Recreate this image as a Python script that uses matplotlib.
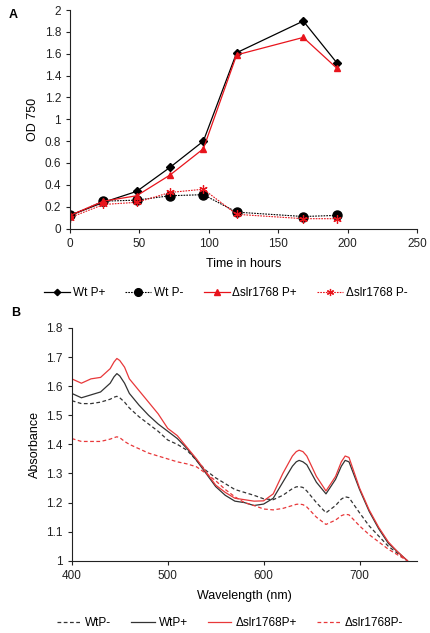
#!/usr/bin/env python3
import matplotlib
matplotlib.use("Agg")
import matplotlib.pyplot as plt
from matplotlib.ticker import FuncFormatter

plt.rcParams["font.family"] = ["Liberation Sans", "DejaVu Sans"]
plt.rcParams["font.size"] = 8

# panel A: growth curves
hours = [0, 24, 48, 72, 96, 120, 168, 192]
wt_p_plus = [0.12, 0.24, 0.34, 0.56, 0.80, 1.61, 1.90, 1.52]
wt_p_minus = [0.12, 0.25, 0.26, 0.30, 0.31, 0.15, 0.11, 0.12]
slr_p_plus = [0.12, 0.25, 0.30, 0.49, 0.73, 1.59, 1.75, 1.47]
slr_p_minus = [0.10, 0.22, 0.24, 0.33, 0.36, 0.13, 0.09, 0.09]

# panel B: absorbance spectra
wl = [400, 410, 420, 430, 440, 444, 447, 450, 455, 460, 470, 480, 490, 500, 510,
      520, 530, 540, 550, 560, 570, 580, 590, 600, 610, 620, 630, 634, 637, 641,
      645, 655, 665, 675, 681, 685, 689, 700, 710, 720, 730, 740, 750]
spec_wt_minus = [1.55, 1.54, 1.54, 1.545, 1.555, 1.562, 1.565, 1.56, 1.545, 1.525,
                 1.495, 1.47, 1.445, 1.415, 1.40, 1.38, 1.345, 1.31, 1.285, 1.265,
                 1.245, 1.235, 1.225, 1.213, 1.21, 1.225, 1.248, 1.254, 1.255, 1.252,
                 1.24, 1.20, 1.165, 1.19, 1.212, 1.22, 1.217, 1.165, 1.12, 1.085,
                 1.05, 1.025, 1.00]
spec_wt_plus = [1.575, 1.56, 1.57, 1.58, 1.61, 1.632, 1.643, 1.635, 1.61, 1.575,
                1.535, 1.50, 1.47, 1.445, 1.42, 1.386, 1.345, 1.30, 1.255, 1.225,
                1.205, 1.20, 1.19, 1.195, 1.215, 1.27, 1.325, 1.34, 1.345, 1.34,
                1.33, 1.27, 1.23, 1.28, 1.325, 1.345, 1.34, 1.245, 1.17, 1.11,
                1.06, 1.03, 1.00]
spec_slr_plus = [1.625, 1.61, 1.625, 1.63, 1.66, 1.683, 1.695, 1.688, 1.665, 1.625,
                 1.585, 1.545, 1.505, 1.455, 1.43, 1.39, 1.35, 1.305, 1.26, 1.235,
                 1.215, 1.21, 1.205, 1.206, 1.23, 1.30, 1.36, 1.375, 1.38, 1.375,
                 1.36, 1.29, 1.24, 1.29, 1.34, 1.36, 1.355, 1.25, 1.175, 1.115,
                 1.065, 1.03, 1.00]
spec_slr_minus = [1.42, 1.41, 1.41, 1.41, 1.418, 1.423, 1.426, 1.423, 1.41, 1.40,
                  1.385, 1.37, 1.36, 1.35, 1.34, 1.333, 1.323, 1.30, 1.275, 1.245,
                  1.22, 1.20, 1.19, 1.178, 1.175, 1.18, 1.19, 1.194, 1.195, 1.193,
                  1.185, 1.15, 1.125, 1.14, 1.155, 1.16, 1.158, 1.12, 1.09, 1.065,
                  1.04, 1.02, 1.00]

RED = "#e8141c"


def style_axes(ax):
    ax.spines["top"].set_visible(False)
    ax.spines["right"].set_visible(False)
    ax.spines["left"].set_color("#222222")
    ax.spines["bottom"].set_color("#222222")
    ax.tick_params(direction="out", length=3, width=0.8, colors="#222222",
                   labelsize=8.5)


def main():
    fig = plt.figure(figsize=(4.3, 6.33), dpi=100)

    # ---- A ----
    ax1 = fig.add_axes([0.163, 0.639, 0.807, 0.345])
    ax1.plot(hours, wt_p_plus, color="black", lw=0.9, marker="D", ms=3.8,
             label="Wt P+")
    ax1.plot(hours, wt_p_minus, color="black", lw=0.8, ls=(0, (1.5, 1)),
             marker="o", ms=6.5, label="Wt P-")
    ax1.plot(hours, slr_p_plus, color=RED, lw=0.9, marker="^", ms=4.5,
             label="Δslr1768 P+")
    ax1.plot(hours, slr_p_minus, color=RED, lw=0.8, ls=(0, (1.5, 1)),
             marker=(6, 2, 0), ms=6, mew=0.9, label="Δslr1768 P-")
    ax1.set_xlim(0, 250)
    ax1.set_ylim(0, 2)
    ax1.set_xticks([0, 50, 100, 150, 200, 250])
    ax1.set_yticks([0, 0.2, 0.4, 0.6, 0.8, 1, 1.2, 1.4, 1.6, 1.8, 2])
    ax1.yaxis.set_major_formatter(FuncFormatter(lambda v, p: f"{v:g}"))
    ax1.set_xlabel("Time in hours", fontsize=9, labelpad=6)
    ax1.set_ylabel("OD 750", fontsize=9, labelpad=4)
    style_axes(ax1)
    fig.legend(*ax1.get_legend_handles_labels(), loc="center",
               bbox_to_anchor=(0.525, 0.537), ncol=4, frameon=False,
               fontsize=8.5, handlelength=2.2, columnspacing=1.7,
               handletextpad=0.25, markerscale=0.85)
    fig.text(0.02, 0.985, "A", fontsize=9, fontweight="bold", va="top")

    # ---- B ----
    ax2 = fig.add_axes([0.167, 0.114, 0.803, 0.368])
    ax2.plot(wl, spec_wt_minus, color="#333333", lw=0.9, ls=(0, (3, 2)),
             label="WtP-")
    ax2.plot(wl, spec_wt_plus, color="#333333", lw=0.9, label="WtP+")
    ax2.plot(wl, spec_slr_plus, color="#e8383a", lw=0.9, label="Δslr1768P+")
    ax2.plot(wl, spec_slr_minus, color="#e8383a", lw=0.9, ls=(0, (3, 2)),
             label="Δslr1768P-")
    ax2.set_xlim(400, 760)
    ax2.set_ylim(1, 1.8)
    ax2.set_xticks([400, 500, 600, 700])
    ax2.set_yticks([1, 1.1, 1.2, 1.3, 1.4, 1.5, 1.6, 1.7, 1.8])
    ax2.yaxis.set_major_formatter(FuncFormatter(lambda v, p: f"{v:g}"))
    ax2.set_xlabel("Wavelength (nm)", fontsize=9, labelpad=6)
    ax2.set_ylabel("Absorbance", fontsize=9, labelpad=4)
    style_axes(ax2)
    fig.legend(*ax2.get_legend_handles_labels(), loc="center",
               bbox_to_anchor=(0.535, 0.016), ncol=4, frameon=False,
               fontsize=8.5, handlelength=2.0, columnspacing=1.7,
               handletextpad=0.35)
    fig.text(0.025, 0.515, "B", fontsize=9, fontweight="bold", va="top")

    fig.savefig("out.png", dpi=100)
    plt.close(fig)


if __name__ == "__main__":
    main()
